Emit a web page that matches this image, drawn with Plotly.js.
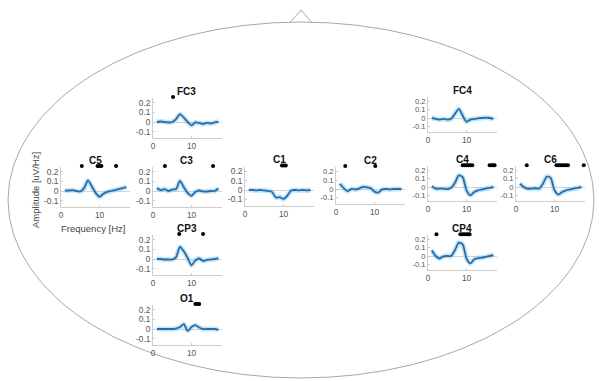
<!DOCTYPE html>
<html><head><meta charset="utf-8">
<script src="https://cdn.plot.ly/plotly-3.0.1.min.js"></script>
<style>html,body{margin:0;padding:0;background:#fff}#chart{width:599px;height:381px}</style>
</head><body><div id="chart"></div>
<script>
// ---- data ----
const freqs = [1,2,3,4,5,6,7,8,9,10,11,12,13,14,15,16,17];
const electrodes = ['FC3','FC4','C5','C3','C1','C2','C4','C6','CP3','CP4','O1'];
const ampFC3 = [0.0,0.005,0.0,-0.005,0.0,0.03,0.082,0.045,0.0,-0.035,-0.005,-0.01,-0.02,-0.01,-0.015,-0.005,0.005];
const ampFC4 = [0.0,-0.01,-0.02,-0.01,-0.02,-0.01,0.05,0.11,0.03,-0.045,-0.02,-0.01,-0.005,0.0,0.005,0.0,-0.01];
const ampC5  = [0.005,0.005,0.01,0.0,-0.005,0.03,0.11,0.05,-0.02,-0.06,-0.03,-0.01,0.0,0.01,0.02,0.03,0.04];
const ampC3  = [0.03,0.01,0.02,0.0,0.015,0.02,0.105,0.04,-0.02,-0.05,-0.01,0.005,-0.005,-0.005,0.0,0.0,0.025];
const ampC1  = [0.0,0.0,-0.005,0.0,-0.005,-0.01,-0.02,-0.08,-0.075,-0.095,-0.06,-0.005,0.0,-0.005,0.0,-0.005,0.0];
const ampC2  = [0.06,0.01,-0.025,0.0,-0.005,0.005,0.025,0.02,0.01,-0.03,-0.04,-0.005,0.0,-0.005,0.0,0.0,0.0];
const ampC4  = [0.01,-0.02,-0.02,-0.02,-0.025,-0.01,0.05,0.14,0.12,-0.04,-0.1,-0.06,-0.04,-0.03,-0.02,-0.01,0.0];
const ampC6  = [0.04,0.0,-0.02,-0.02,-0.015,-0.02,0.04,0.125,0.11,-0.04,-0.09,-0.06,-0.04,-0.03,-0.02,-0.01,0.0];
const ampCP3 = [0.0,0.0,-0.005,-0.005,-0.005,0.02,0.125,0.08,0.01,-0.065,-0.015,0.005,-0.02,-0.01,-0.005,0.0,0.01];
const ampCP4 = [0.07,0.0,-0.03,-0.005,0.0,0.0,0.07,0.16,0.14,-0.03,-0.09,-0.04,-0.025,-0.02,-0.01,0.0,0.01];
const ampO1  = [0.0,0.0,0.0,0.0,0.0,0.005,0.02,0.05,-0.02,0.02,0.04,0.015,0.0,0.0,0.0,0.0,-0.01];
// significant frequencies (black markers above each plot)
const sigFC3 = [5.2];
const sigFC4 = [];
const sigC5  = [5.4, 9.5, 10, 10.5, 14.3];
const sigC3  = [3.1, 15.6];
const sigC1  = [9.6, 10.1, 10.6];
const sigC2  = [2.4, 10.2];
const sigC4  = [9, 9.5, 10, 10.5, 11, 11.5, 16, 16.5, 17, 17.3];
const sigC6  = [2.8, 10.5, 11, 11.5, 12, 12.5, 13, 13.5, 17.6];
const sigCP3 = [6.8, 13];
const sigCP4 = [2.2, 8.4, 8.9, 9.4, 9.9, 10.4, 10.8];
const sigO1  = [11, 11.5, 12];
const xTickVals = [0, 10];
const xTickText = ['0', '10'];
const yTickVals = [-0.1, 0, 0.1, 0.2];
const yTickText = ['-0.1', '0', '0.1', '0.2'];
const xLabel = 'Frequency [Hz]';
const yLabel = 'Amplitude [uV/Hz]';

const ampMap = {FC3:ampFC3,FC4:ampFC4,C5:ampC5,C3:ampC3,C1:ampC1,C2:ampC2,C4:ampC4,C6:ampC6,CP3:ampCP3,CP4:ampCP4,O1:ampO1};
const sigMap = {FC3:sigFC3,FC4:sigFC4,C5:sigC5,C3:sigC3,C1:sigC1,C2:sigC2,C4:sigC4,C6:sigC6,CP3:sigCP3,CP4:sigCP4,O1:sigO1};

// ---- geometry (pixels) ----
const W = 599, H = 381;
const geo = {
  FC3:{x0:153,y0:122,ys:9.6}, FC4:{x0:428,y0:118,ys:8.3},
  C5:{x0:61,y0:191,ys:9.6},  C3:{x0:153,y0:191,ys:9.6}, C1:{x0:245,y0:190,ys:9.4},
  C2:{x0:336,y0:189,ys:8.8}, C4:{x0:428,y0:187,ys:8.3}, C6:{x0:516,y0:187,ys:8.3},
  CP3:{x0:153,y0:259,ys:9.6}, CP4:{x0:428,y0:256,ys:8.3},
  O1:{x0:153,y0:329,ys:9.6}
};
const XS = 3.85, XMAX = 18, YMIN = -0.17, YMAX = 0.25;
const FONT = 'Liberation Sans, Arial, Helvetica, sans-serif';

const data = [];
const layout = {
  width: W, height: H, margin:{l:0,r:0,t:0,b:0},
  paper_bgcolor:'#fff', plot_bgcolor:'rgba(0,0,0,0)',
  showlegend:false, font:{family:FONT, size:8, color:'#444'},
  shapes:[], annotations:[]
};

const N = electrodes.length;
electrodes.forEach((e, i) => {
  const g = geo[e];
  const n = i === 0 ? '' : String(i + 1);
  const xa = 'x' + n, ya = 'y' + n;
  const ys2 = 'y' + (i + 1 + N);
  const top = g.y0 - 10 * g.ys * YMAX;
  const bot = g.y0 - 10 * g.ys * YMIN;
  const tf = {size: g.ys < 9 ? 7.6 : 8.3, color:'#555'};
  layout['xaxis' + n] = {
    domain:[g.x0 / W, (g.x0 + XS * XMAX) / W], range:[0, XMAX], anchor: ya,
    tickvals:xTickVals, ticktext:xTickText, showgrid:false, zeroline:false,
    showline:true, linecolor:'#cdcdcd', linewidth:1, ticks:'inside', ticklen:2, tickcolor:'#cdcdcd',
    tickfont:{size:8.3, color:'#555'}, fixedrange:true
  };
  layout['yaxis' + n] = {
    domain:[1 - bot / H, 1 - top / H], range:[YMIN, YMAX], anchor: xa,
    tickvals:yTickVals, ticktext:yTickText, showgrid:false,
    zeroline:true, zerolinecolor:'#d4d4d4', zerolinewidth:1,
    showline:true, linecolor:'#cdcdcd', linewidth:1, ticks:'inside', ticklen:2, tickcolor:'#cdcdcd',
    tickfont:tf, fixedrange:true
  };
  // thin strip above each plot for significance markers
  layout['yaxis' + (i + 1 + N)] = {
    domain:[1 - (top + 2) / H, 1 - (top - 4) / H], range:[0, 1], anchor: xa,
    visible:false, fixedrange:true
  };
  // halo (shaded error look)
  data.push({x:freqs, y:ampMap[e], xaxis:xa, yaxis:ya, mode:'lines',
    line:{color:'rgba(120,200,240,0.45)', width:5, shape:'spline', smoothing:0.7}, hoverinfo:'skip'});
  data.push({x:freqs, y:ampMap[e], xaxis:xa, yaxis:ya, mode:'lines',
    line:{color:'#2a6aa8', width:1.8, shape:'spline', smoothing:0.7}});
  const s = sigMap[e];
  if (s.length) {
    data.push({x:s, y:s.map(() => 0.5), xaxis:xa, yaxis:ys2, mode:'markers', cliponaxis:false,
      marker:{color:'#000', size:4, symbol:'circle'}});
  }
  layout.annotations.push({text:'<b>' + e + '</b>', xref:'paper', yref:'paper',
    x:(g.x0 + 34) / W, y:1 - (top - 7) / H, xanchor:'center', yanchor:'middle', showarrow:false,
    font:{family:FONT, size:10, color:'#111'}});
});

layout.annotations.push({text:xLabel, xref:'paper', yref:'paper', x:93 / W, y:1 - 228 / H,
  xanchor:'center', yanchor:'middle', showarrow:false, font:{family:FONT, size:9.5, color:'#444'}});
layout.annotations.push({text:yLabel, xref:'paper', yref:'paper', x:35 / W, y:1 - 190 / H,
  textangle:-90, xanchor:'center', yanchor:'middle', showarrow:false, font:{family:FONT, size:9.5, color:'#444'}});

// head outline and nose
layout.shapes.push({type:'circle', xref:'paper', yref:'paper', layer:'below',
  x0:8 / W, x1:594 / W, y0:1 - 378 / H, y1:1 - 22 / H, line:{color:'#a8a8a8', width:1}});
layout.shapes.push({type:'path', xref:'paper', yref:'paper', layer:'below',
  path:'M ' + (290 / W) + ' ' + (1 - 22.5 / H) + ' L ' + (301 / W) + ' ' + (1 - 10 / H) + ' L ' + (312 / W) + ' ' + (1 - 22.5 / H),
  line:{color:'#a8a8a8', width:1}});

Plotly.newPlot('chart', data, layout, {staticPlot:true, displayModeBar:false});
</script></body></html>
